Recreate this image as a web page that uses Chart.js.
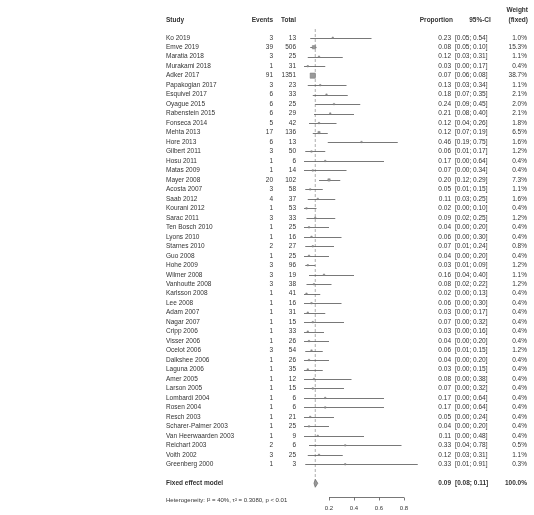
<!DOCTYPE html>
<html>
<head>
<meta charset="utf-8">
<script src="https://cdn.jsdelivr.net/npm/chart.js@4.4.1/dist/chart.umd.min.js"></script>
<style>
  body { margin: 0; background: #fff; }
  #forest { display: block; }
</style>
</head>
<body>
<canvas id="forest" width="534" height="515"></canvas>
<script>
const studies = [
  "Ko 2019", "Emve 2019", "Maratia 2018", "Murakami 2018", "Adker 2017",
  "Papakogian 2017", "Esquivel 2017", "Oyague 2015", "Rabenstein 2015", "Fonseca 2014",
  "Mehta 2013", "Hore 2013", "Gilbert 2011", "Hosu 2011", "Matas 2009",
  "Mayer 2008", "Acosta 2007", "Saab 2012", "Kourani 2012", "Sarac 2011",
  "Ten Bosch 2010", "Lyons 2010", "Starnes 2010", "Guo 2008", "Hohe 2009",
  "Wilmer 2008", "Vanhoutte 2008", "Karlsson 2008", "Lee 2008", "Adam 2007",
  "Nagar 2007", "Cripp 2006", "Visser 2006", "Ocelot 2006", "Dalkshee 2006",
  "Laguna 2006", "Amer 2005", "Larson 2005", "Lombardi 2004", "Rosen 2004",
  "Resch 2003", "Scharer-Palmer 2003", "Van Heerwaarden 2003", "Reichart 2003", "Voith 2002",
  "Greenberg 2000"
];
const events = [3, 39, 3, 1, 91, 3, 6, 6, 6, 5, 17, 6, 3, 1, 1, 20, 3, 4, 1, 3,
  1, 1, 2, 1, 3, 3, 3, 1, 1, 1, 1, 1, 1, 3, 1, 1, 1, 1, 1, 1, 1, 1, 1, 2, 3, 1];
const totals = [13, 506, 25, 31, 1351, 23, 33, 25, 29, 42, 136, 13, 50, 6, 14, 102, 58, 37, 53, 33,
  25, 16, 27, 25, 96, 19, 38, 41, 16, 31, 15, 33, 26, 54, 26, 35, 12, 15, 6, 6, 21, 25, 9, 6, 25, 3];
const proportions = [0.23, 0.08, 0.12, 0.03, 0.07, 0.13, 0.18, 0.24, 0.21, 0.12,
  0.12, 0.46, 0.06, 0.17, 0.07, 0.20, 0.05, 0.11, 0.02, 0.09,
  0.04, 0.06, 0.07, 0.04, 0.03, 0.16, 0.08, 0.02, 0.06, 0.03,
  0.07, 0.03, 0.04, 0.06, 0.04, 0.03, 0.08, 0.07, 0.17, 0.17,
  0.05, 0.04, 0.11, 0.33, 0.12, 0.33];
const ciLower = [0.05, 0.05, 0.03, 0.00, 0.06, 0.03, 0.07, 0.09, 0.08, 0.04,
  0.07, 0.19, 0.01, 0.00, 0.00, 0.12, 0.01, 0.03, 0.00, 0.02,
  0.00, 0.00, 0.01, 0.00, 0.01, 0.04, 0.02, 0.00, 0.00, 0.00,
  0.00, 0.00, 0.00, 0.01, 0.00, 0.00, 0.00, 0.00, 0.00, 0.00,
  0.00, 0.00, 0.00, 0.04, 0.03, 0.01];
const ciUpper = [0.54, 0.10, 0.31, 0.17, 0.08, 0.34, 0.35, 0.45, 0.40, 0.26,
  0.19, 0.75, 0.17, 0.64, 0.34, 0.29, 0.15, 0.25, 0.10, 0.25,
  0.20, 0.30, 0.24, 0.20, 0.09, 0.40, 0.22, 0.13, 0.30, 0.17,
  0.32, 0.16, 0.20, 0.15, 0.20, 0.15, 0.38, 0.32, 0.64, 0.64,
  0.24, 0.20, 0.48, 0.78, 0.31, 0.91];
const weights = [1.0, 15.3, 1.1, 0.4, 38.7, 1.1, 2.1, 2.0, 2.1, 1.8,
  6.5, 1.6, 1.2, 0.4, 0.4, 7.3, 1.1, 1.6, 0.4, 1.2,
  0.4, 0.4, 0.8, 0.4, 1.2, 1.1, 1.2, 0.4, 0.4, 0.4,
  0.4, 0.4, 0.4, 1.2, 0.4, 0.4, 0.4, 0.4, 0.4, 0.4,
  0.4, 0.4, 0.4, 0.5, 1.1, 0.3];

// pooled estimate
const fixedEst = 0.09;
const fixedCI = [0.08, 0.11];
const fixedWeight = 100.0;
const heterogeneity = "Heterogeneity: I\u00b2 = 40%, \u03c4\u00b2 = 0.3080, p < 0.01";
const axisTicks = [0.2, 0.4, 0.6, 0.8];

const fixedRow = studies.length + 1;
const FONT = '"Liberation Sans", Arial, sans-serif';
const TEXT = "#333";

const fmt = v => v.toFixed(2);

const forestPlugin = {
  id: "forest",
  beforeDatasetsDraw(chart) {
    const { ctx, scales: { x, y } } = chart;
    ctx.save();
    // reference line at the fixed effect estimate
    ctx.strokeStyle = "#999";
    ctx.lineWidth = 0.8;
    ctx.setLineDash([3, 2]);
    ctx.beginPath();
    ctx.moveTo(x.getPixelForValue(fixedEst), chart.chartArea.top - 4);
    ctx.lineTo(x.getPixelForValue(fixedEst), y.getPixelForValue(fixedRow) - 4);
    ctx.stroke();
    ctx.setLineDash([]);
    // confidence intervals
    ctx.strokeStyle = "#555";
    ctx.lineWidth = 0.8;
    studies.forEach((s, i) => {
      const py = Math.round(y.getPixelForValue(i)) + 0.5;
      ctx.beginPath();
      ctx.moveTo(x.getPixelForValue(ciLower[i]), py);
      ctx.lineTo(x.getPixelForValue(ciUpper[i]), py);
      ctx.stroke();
    });
    ctx.restore();
  },
  afterDraw(chart) {
    const { ctx, scales: { x, y } } = chart;
    ctx.save();
    ctx.fillStyle = TEXT;
    ctx.textBaseline = "middle";

    // headers
    ctx.font = "bold 6.5px " + FONT;
    ctx.textAlign = "left";
    ctx.fillText("Study", 166, 20);
    ctx.textAlign = "right";
    ctx.fillText("Events", 273, 20);
    ctx.fillText("Total", 296, 20);
    ctx.fillText("Proportion", 453, 20);
    ctx.fillText("Weight", 528, 10);
    ctx.fillText("(fixed)", 528, 20);
    ctx.textAlign = "center";
    ctx.fillText("95%-CI", 480, 20);

    // study rows
    ctx.font = "6.5px " + FONT;
    studies.forEach((s, i) => {
      const py = y.getPixelForValue(i);
      ctx.textAlign = "left";
      ctx.fillText(s, 166, py);
      ctx.fillText("[" + fmt(ciLower[i]) + "; " + fmt(ciUpper[i]) + "]", 455, py);
      ctx.textAlign = "right";
      ctx.fillText(String(events[i]), 273, py);
      ctx.fillText(String(totals[i]), 296, py);
      ctx.fillText(fmt(proportions[i]), 451, py);
      ctx.fillText(weights[i].toFixed(1) + "%", 527, py);
    });

    // pooled row
    const fy = y.getPixelForValue(fixedRow);
    ctx.font = "bold 6.5px " + FONT;
    ctx.textAlign = "left";
    ctx.fillText("Fixed effect model", 166, fy);
    ctx.fillText("[" + fmt(fixedCI[0]) + "; " + fmt(fixedCI[1]) + "]", 455, fy);
    ctx.textAlign = "right";
    ctx.fillText(fmt(fixedEst), 451, fy);
    ctx.fillText(fixedWeight.toFixed(1) + "%", 527, fy);

    // diamond
    ctx.fillStyle = "#999";
    ctx.strokeStyle = "#666";
    ctx.lineWidth = 0.7;
    ctx.beginPath();
    ctx.moveTo(x.getPixelForValue(fixedCI[0]), fy);
    ctx.lineTo(x.getPixelForValue(fixedEst), fy - 4);
    ctx.lineTo(x.getPixelForValue(fixedCI[1]), fy);
    ctx.lineTo(x.getPixelForValue(fixedEst), fy + 4);
    ctx.closePath();
    ctx.fill();
    ctx.stroke();

    // heterogeneity note
    ctx.fillStyle = TEXT;
    ctx.font = "6px " + FONT;
    ctx.textAlign = "left";
    ctx.fillText(heterogeneity, 166, 500);

    // x axis
    const ay = 497.5;
    ctx.strokeStyle = "#555";
    ctx.lineWidth = 0.8;
    ctx.beginPath();
    ctx.moveTo(x.getPixelForValue(axisTicks[0]), ay);
    ctx.lineTo(x.getPixelForValue(axisTicks[axisTicks.length - 1]), ay);
    axisTicks.forEach(t => {
      const px = Math.round(x.getPixelForValue(t)) + 0.5;
      ctx.moveTo(px, ay);
      ctx.lineTo(px, ay + 3);
    });
    ctx.stroke();
    ctx.textAlign = "center";
    ctx.font = "6px " + FONT;
    axisTicks.forEach(t => {
      ctx.fillText(t.toFixed(1), x.getPixelForValue(t), 508);
    });
    ctx.restore();
  }
};

new Chart(document.getElementById("forest"), {
  type: "scatter",
  data: {
    datasets: [{
      data: proportions.map((p, i) => ({ x: p, y: i })),
      pointStyle: "rect",
      pointRadius: weights.map(w => Math.max(1, 0.6 * Math.sqrt(w))),
      backgroundColor: "#999",
      borderColor: "#777",
      borderWidth: 0.5
    }]
  },
  options: {
    responsive: false,
    animation: false,
    events: [],
    layout: {
      autoPadding: false,
      padding: { left: 304, right: 105, top: 33, bottom: 27 }
    },
    scales: {
      x: { type: "linear", min: 0, max: 1, display: false },
      y: { type: "linear", min: -0.5, max: 47.5, reverse: true, display: false }
    },
    plugins: {
      legend: { display: false },
      tooltip: { enabled: false }
    }
  },
  plugins: [forestPlugin]
});
</script>
</body>
</html>
